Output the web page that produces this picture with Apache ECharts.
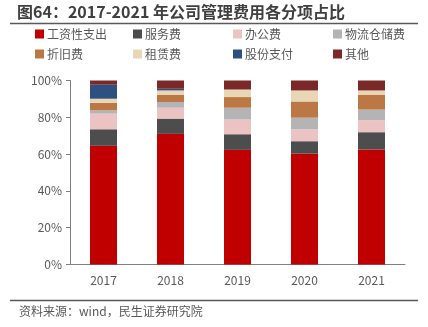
<!DOCTYPE html>
<html>
<head>
<meta charset="utf-8">
<script src="https://cdn.jsdelivr.net/npm/echarts@6/dist/echarts.min.js"></script>
<style>html,body{margin:0;padding:0;background:#fff}#c{width:428px;height:327px}</style>
</head>
<body>
<div id="c"></div>
<script>
var years = ['2017', '2018', '2019', '2020', '2021'];
var seriesNames = ['工资性支出', '服务费', '办公费', '物流仓储费', '折旧费', '租赁费', '股份支付', '其他'];
var wages = [64.5, 71.0, 62.3, 60.2, 62.5];
var service = [9.0, 8.3, 8.5, 6.8, 9.4];
var office = [8.5, 5.9, 8.0, 6.4, 6.6];
var logistics = [1.8, 3.1, 6.4, 6.4, 5.7];
var depreciation = [4.1, 4.0, 5.8, 8.8, 8.1];
var rent = [2.2, 2.3, 4.1, 6.0, 2.3];
var shares = [7.6, 0.9, 0, 0, 0];
var others = [2.3, 4.5, 4.9, 5.4, 5.4];
var yTicks = ['0%', '20%', '40%', '60%', '80%', '100%'];

var values = [wages, service, office, logistics, depreciation, rent, shares, others];
var colors = ['#C00000', '#4D4D4D', '#EBC3C3', '#B4B4B4', '#BB7845', '#E8D6B4', '#2C5180', '#7B2828'];
var font = 'Microsoft YaHei, "Noto Sans CJK SC", sans-serif';

var legendCols = [35, 133, 233, 333];
var legendRows = [28, 48];
var legends = seriesNames.map(function (n, i) {
  return {
    data: [n],
    left: legendCols[i % 4],
    top: legendRows[Math.floor(i / 4)],
    icon: 'rect',
    itemWidth: 9,
    itemHeight: 9,
    itemGap: 0,
    padding: 0,
    selectedMode: false,
    textStyle: { fontSize: 12, color: '#595959', fontFamily: font, padding: [0, 0, 0, -2] }
  };
});

var chart = echarts.init(document.getElementById('c'), null, { renderer: 'canvas' });
chart.setOption({
  animation: false,
  color: colors,
  legend: legends,
  grid: { left: 70, right: 23, top: 80.5, bottom: 62.5 },
  xAxis: {
    type: 'category',
    data: years,
    axisLine: { lineStyle: { color: '#7F7F7F', width: 1 } },
    axisTick: { show: false },
    axisLabel: { fontSize: 12, color: '#595959', fontFamily: font, margin: 10 }
  },
  yAxis: {
    type: 'value',
    min: 0,
    max: 100,
    interval: 20,
    axisLine: { show: true, lineStyle: { color: '#7F7F7F', width: 1 } },
    axisTick: { show: true, inside: false, length: 4, lineStyle: { color: '#7F7F7F' } },
    splitLine: { show: false },
    axisLabel: {
      fontSize: 12, color: '#595959', fontFamily: font, margin: 8,
      formatter: function (v) { return yTicks[Math.round(v / 20)]; }
    }
  },
  series: seriesNames.map(function (n, i) {
    return {
      name: n,
      type: 'bar',
      stack: 'total',
      barWidth: 27,
      data: values[i],
      itemStyle: { color: colors[i] }
    };
  }),
  graphic: [
    { type: 'text', left: 17, top: 4, style: { text: '图64：2017-2021 年公司管理费用各分项占比', font: 'bold 16px ' + font, fill: '#404040' } },
    { type: 'line', shape: { x1: 10, y1: 23.5, x2: 418, y2: 23.5 }, style: { stroke: '#595959', lineWidth: 1.5 } },
    { type: 'line', shape: { x1: 10, y1: 300.5, x2: 418, y2: 300.5 }, style: { stroke: '#595959', lineWidth: 1.5 } },
    { type: 'text', left: 19, top: 305, style: { text: '资料来源：wind，民生证券研究院', font: '12px ' + font, fill: '#595959' } }
  ]
});
</script>
</body>
</html>
